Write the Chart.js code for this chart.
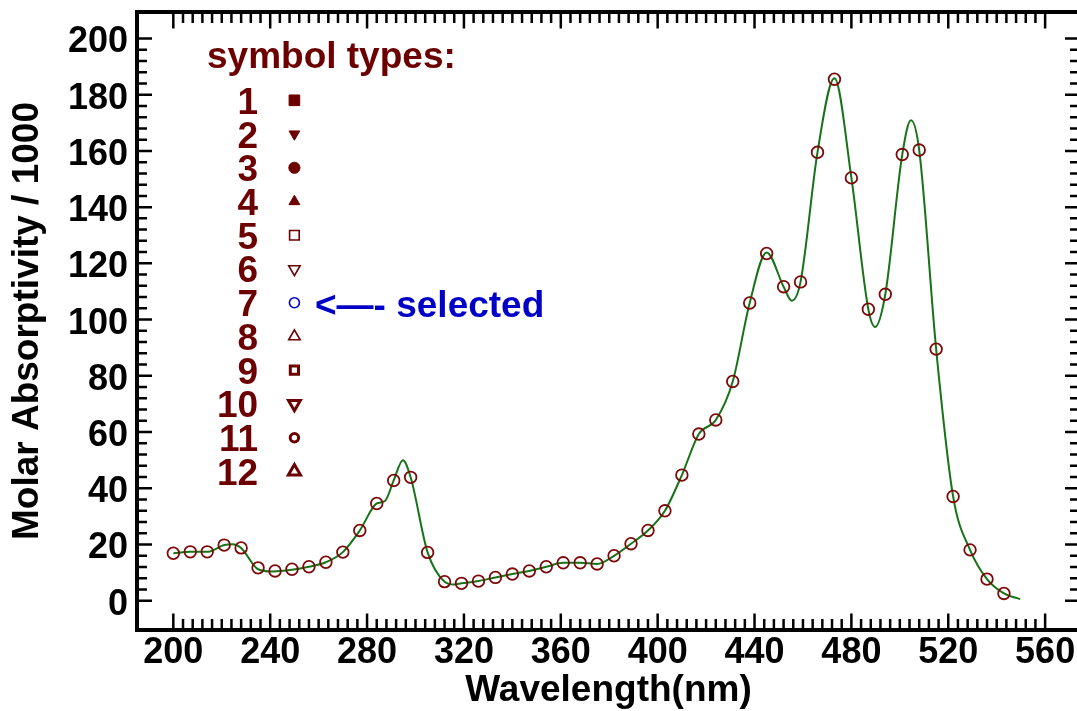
<!DOCTYPE html>
<html>
<head>
<meta charset="utf-8">
<title>Absorption spectrum</title>
<script src="https://cdn.jsdelivr.net/npm/chart.js@4.4.1/dist/chart.umd.min.js"></script>
<style>
  html, body { margin: 0; padding: 0; background: #fff; overflow: hidden; }
  #wrap { width: 1092px; height: 711px; }
</style>
</head>
<body>
<div id="wrap"><canvas id="spectrum" width="1092" height="711"></canvas></div>
<script>
// measured points, nm / (molar absorptivity / 1000)
var wavelengths = [200,207,214,221,228,235,242,249,256,263,270,277,284,291,298,305,312,319,326,333,
                   340,347,354,361,368,375,382,389,396,403,410,417,424,431,438,445,452,459,466,473,
                   480,487,494,501,508,515,522,529,536,543];
var absorptivity = [16.9,17.4,17.4,19.8,18.8,11.7,10.6,11.2,12.1,13.7,17.3,25.0,34.6,42.8,43.9,17.2,6.8,6.2,7.0,8.3,
                    9.5,10.6,12.1,13.5,13.5,13.1,16.0,20.3,25.0,32.0,44.7,59.3,64.3,78.0,105.9,123.5,111.7,113.4,159.5,185.5,
                    150.4,103.7,109.0,158.7,160.3,89.5,37.1,18.1,7.7,2.6];

// fitted spectrum
var curveWl = [200,207,214,221,224.5,228,235,241,249,256,263,270,277,284,287.5,291,294.8,298,305,312,316,319,326,333,
               340,347,354,361,368,375,382,389,396,403,410,417,424,431,438,445,452,455.4,459,466,473,480,487,489.8,
               494,501,504.6,508,515,522,529,536,543,549.7];
var curveAbs = [16.9,17.4,17.4,19.8,20.1,18.8,11.2,10.4,11.0,12.1,13.7,17.3,25.0,34.6,35.6,42.8,50.0,43.9,17.2,6.8,5.8,6.2,7.0,8.3,
                9.5,10.6,12.1,13.5,13.5,13.1,16.0,20.3,25.0,32.0,44.7,59.3,64.3,78.0,105.9,123.9,111.7,106.7,113.4,159.5,185.8,150.4,103.7,97.4,
                109.0,158.7,170.9,160.3,89.5,37.1,18.1,7.7,2.6,0.6];

var xTicks = [200,240,280,320,360,400,440,480,520,560];
var yTicks = [0,20,40,60,80,100,120,140,160,180,200];
var minorStep = 4;

// symbol key
var symbolTitle = 'symbol types:';
var symbolNames = ['1','2','3','4','5','6','7','8','9','10','11','12'];
var symbolRows = [178,166,154,142,130,118,106,94,82,70,58,46];
var symbolX = [250,250,250,250,250,250,250,250,250,250,250,250];
var selectedNote = '<\u2014- selected';
var selectedIndex = 6;

var MAROON = '#6c0000';
var FONT = '"Liberation Sans", Arial, Helvetica, sans-serif';

var frame = {
  id: 'frame',
  afterDatasetsDraw: function (chart) {
    var ctx = chart.ctx, a = chart.chartArea;
    var sx = chart.scales.x, sy = chart.scales.y;
    ctx.save();
    ctx.strokeStyle = '#000';
    ctx.lineWidth = 2.5;
    ctx.beginPath();
    for (var v = xTicks[0]; v <= xTicks[xTicks.length - 1]; v += minorStep) {
      var px = sx.getPixelForValue(v);
      var len = xTicks.indexOf(v) >= 0 ? 16.5 : 11;
      ctx.moveTo(px, a.bottom); ctx.lineTo(px, a.bottom - len);
      ctx.moveTo(px, a.top); ctx.lineTo(px, a.top + len);
    }
    for (var w = yTicks[0]; w <= yTicks[yTicks.length - 1]; w += minorStep) {
      var py = sy.getPixelForValue(w);
      var l2 = yTicks.indexOf(w) >= 0 ? 15 : 10;
      ctx.moveTo(a.left, py); ctx.lineTo(a.left + l2, py);
      ctx.moveTo(a.right, py); ctx.lineTo(a.right - l2, py);
    }
    ctx.stroke();
    ctx.lineWidth = 4;
    ctx.strokeRect(a.left, a.top, a.right - a.left, a.bottom - a.top);
    ctx.restore();
  }
};

var keyText = {
  id: 'keyText',
  afterDatasetsDraw: function (chart) {
    var ctx = chart.ctx;
    var sx = chart.scales.x, sy = chart.scales.y;
    ctx.save();
    ctx.font = 'bold 37px ' + FONT;
    ctx.textBaseline = 'alphabetic';
    ctx.fillStyle = MAROON;
    ctx.textAlign = 'left';
    ctx.fillText(symbolTitle, sx.getPixelForValue(213.9), sy.getPixelForValue(189.4));
    ctx.textAlign = 'right';
    for (var i = 0; i < symbolNames.length; i++) {
      ctx.fillText(symbolNames[i], sx.getPixelForValue(235), sy.getPixelForValue(symbolRows[i]) + 13.5);
    }
    ctx.textAlign = 'left';
    ctx.fillStyle = '#0000c8';
    ctx.fillText(selectedNote, sx.getPixelForValue(258.5), sy.getPixelForValue(symbolRows[selectedIndex]) + 14);
    ctx.restore();
  }
};

function pairs(xs, ys) {
  return xs.map(function (x, i) { return { x: x, y: ys[i] }; });
}

new Chart(document.getElementById('spectrum'), {
  type: 'scatter',
  data: {
    datasets: [
      {
        label: 'key',
        data: pairs(symbolX, symbolRows),
        showLine: false,
        pointStyle: ['rect','triangle','circle','triangle','rect','triangle','circle','triangle','rect','triangle','circle','triangle'],
        pointRotation: [0,180,0,0,0,180,0,0,0,180,0,0],
        pointRadius: [7.5,6.2,5.6,6.3,6.8,6.6,5,6.6,5.8,6.8,4.2,7],
        pointBorderWidth: [1,1,1,1,1.6,1.6,1.6,1.6,3,3,3,3],
        pointBackgroundColor: [MAROON,MAROON,MAROON,MAROON,'rgba(0,0,0,0)','rgba(0,0,0,0)','rgba(0,0,0,0)','rgba(0,0,0,0)','rgba(0,0,0,0)','rgba(0,0,0,0)','rgba(0,0,0,0)','rgba(0,0,0,0)'],
        pointBorderColor: [MAROON,MAROON,MAROON,MAROON,MAROON,MAROON,'#0000c8',MAROON,MAROON,MAROON,MAROON,MAROON]
      },
      {
        label: 'measured',
        data: pairs(wavelengths, absorptivity),
        showLine: false,
        pointStyle: 'circle',
        pointRadius: 5.8,
        pointBorderWidth: 1.8,
        pointBackgroundColor: 'rgba(0,0,0,0)',
        pointBorderColor: '#7d0808'
      },
      {
        label: 'fit',
        type: 'line',
        data: pairs(curveWl, curveAbs),
        showLine: true,
        borderColor: '#177317',
        borderWidth: 2,
        pointRadius: 0,
        fill: false,
        cubicInterpolationMode: 'monotone'
      }
    ]
  },
  options: {
    responsive: false,
    animation: false,
    events: [],
    layout: { padding: { left: 0, top: 12, right: 12, bottom: 0 } },
    plugins: { legend: { display: false }, tooltip: { enabled: false } },
    scales: {
      x: {
        type: 'linear',
        min: 185.0,
        max: 574.4,
        grid: { display: false, drawTicks: false },
        border: { display: false },
        afterBuildTicks: function (s) { s.ticks = xTicks.map(function (v) { return { value: v }; }); },
        afterFit: function (s) { s.height = 81; s.paddingLeft = 0; s.paddingRight = 0; },
        ticks: {
          autoSkip: false,
          maxRotation: 0,
          padding: 1,
          color: '#000',
          font: { family: FONT, size: 36, weight: 'bold' }
        },
        title: {
          display: true,
          text: 'Wavelength(nm)',
          color: '#000',
          padding: { top: 0, bottom: -2 },
          font: { family: FONT, size: 37, weight: 'bold' }
        }
      },
      y: {
        type: 'linear',
        min: -10.4,
        max: 209.4,
        grid: { display: false, drawTicks: false },
        border: { display: false },
        afterBuildTicks: function (s) { s.ticks = yTicks.map(function (v) { return { value: v }; }); },
        afterFit: function (s) { s.width = 137; s.paddingTop = 0; s.paddingBottom = 0; },
        ticks: {
          autoSkip: false,
          padding: 9,
          labelOffset: 4,
          color: '#000',
          font: { family: FONT, size: 36, weight: 'bold' }
        },
        title: {
          display: true,
          text: 'Molar Absorptivity / 1000',
          color: '#000',
          padding: { top: 6, bottom: 0 },
          font: { family: FONT, size: 37, weight: 'bold' }
        }
      }
    }
  },
  plugins: [frame, keyText]
});
</script>
</body>
</html>
